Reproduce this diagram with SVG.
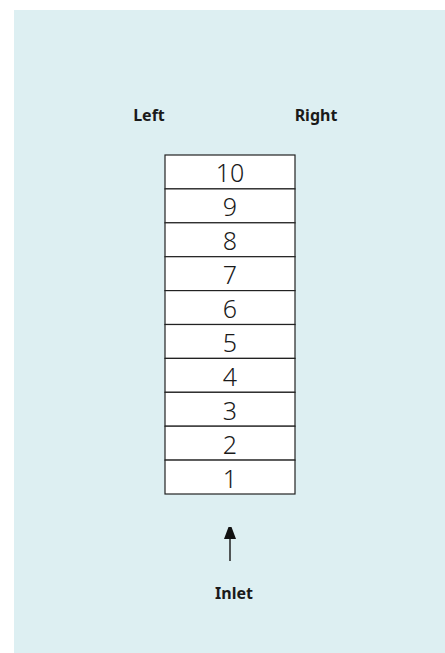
<svg xmlns="http://www.w3.org/2000/svg" width="445" height="653" viewBox="0 0 445 653">
<style>
.lbl{font-family:"Noto Sans","DejaVu Sans",sans-serif;font-weight:bold;font-size:16px;fill:#1a1a1a;text-anchor:middle}
.cell{fill:#ffffff;stroke:#222222;stroke-width:1.2}
.num{font-family:"Noto Sans","DejaVu Sans",sans-serif;font-weight:300;font-size:25px;fill:#1a1a1a;text-anchor:middle}
.conn{stroke:#222222;stroke-width:1.5;fill:none}
</style>
<defs>
<marker id="arr" viewBox="0 0 12 16" refX="12" refY="6" markerWidth="12" markerHeight="16" markerUnits="userSpaceOnUse" orient="auto">
<path d="M0,0 L16,6 L0,12 Z" fill="#111111"/>
</marker>
</defs>
<rect x="14" y="10" width="431" height="643" fill="#ddeff2"/>
<g id="label-left"><text class="lbl" x="149" y="121">Left</text></g>
<g id="label-right"><text class="lbl" x="316" y="121">Right</text></g>
<g id="stack">
<g id="cell-10"><rect class="cell" x="165" y="155" width="130" height="33.9"/><text class="num" x="230" y="182">10</text></g>
<g id="cell-9"><rect class="cell" x="165" y="188.9" width="130" height="33.9"/><text class="num" x="230" y="216">9</text></g>
<g id="cell-8"><rect class="cell" x="165" y="222.8" width="130" height="33.9"/><text class="num" x="230" y="250">8</text></g>
<g id="cell-7"><rect class="cell" x="165" y="256.7" width="130" height="33.9"/><text class="num" x="230" y="284">7</text></g>
<g id="cell-6"><rect class="cell" x="165" y="290.6" width="130" height="33.9"/><text class="num" x="230" y="318">6</text></g>
<g id="cell-5"><rect class="cell" x="165" y="324.5" width="130" height="33.9"/><text class="num" x="230" y="352">5</text></g>
<g id="cell-4"><rect class="cell" x="165" y="358.4" width="130" height="33.9"/><text class="num" x="230" y="385.5">4</text></g>
<g id="cell-3"><rect class="cell" x="165" y="392.3" width="130" height="33.9"/><text class="num" x="230" y="419.5">3</text></g>
<g id="cell-2"><rect class="cell" x="165" y="426.2" width="130" height="33.9"/><text class="num" x="230" y="453.5">2</text></g>
<g id="cell-1"><rect class="cell" x="165" y="460.1" width="130" height="33.9"/><text class="num" x="230" y="487.5">1</text></g>
</g>
<g id="connectors">
<path class="conn" d="M230,561 L230,527" marker-end="url(#arr)"/>
</g>
<g id="label-inlet"><text class="lbl" x="234" y="599">Inlet</text></g>
</svg>
